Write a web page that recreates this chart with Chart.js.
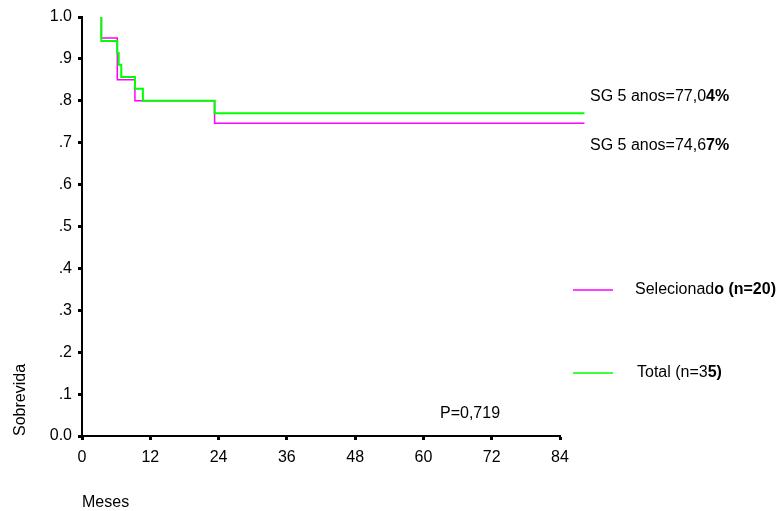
<!DOCTYPE html>
<html>
<head>
<meta charset="utf-8">
<title>Sobrevida</title>
<script src="https://cdn.jsdelivr.net/npm/chart.js@4.4.1/dist/chart.umd.min.js"></script>
<style>
  html, body { margin: 0; padding: 0; background: #fff; }
  canvas { display: block; }
</style>
</head>
<body>
<canvas id="km-chart" width="781" height="511"></canvas>
<script>
// Kaplan-Meier steps (months, survival)
const selTimes = [3.4, 3.4, 6.2, 9.3, 23.3, 88.3];
const selSurv = [1.0, 0.95, 0.85, 0.80, 0.7467, 0.7467];

const totTimes = [3.4, 3.4, 6.2, 6.45, 6.9, 9.3, 10.7, 23.3, 88.3];
const totSurv = [1.0, 0.943, 0.914, 0.886, 0.857, 0.829, 0.80, 0.7704, 0.7704];

const xTicks = [0, 12, 24, 36, 48, 60, 72, 84];
const yTicks = [0, 0.1, 0.2, 0.3, 0.4, 0.5, 0.6, 0.7, 0.8, 0.9, 1.0];

const seriesLabels = ['Selecionado (n=20)', 'Total (n=35)'];
const seriesColors = ['#ff00ff', '#00ff00'];
const pValue = 'P=0,719';

const FONT = '"Liberation Sans", Arial, sans-serif';
const FSIZE = 16;
Chart.defaults.font.family = FONT;
Chart.defaults.font.size = FSIZE;
Chart.defaults.color = '#000';

function toPoints(xs, ys) {
    return xs.map((x, i) => ({ x: x, y: ys[i] }));
}

function yLabel(v) {
    if (v >= 0.999) return '1.0';
    if (v <= 0.001) return '0.0';
    return '.' + Math.round(v * 10);
}

// text drawn with a bold tail, like the original export
function drawMixed(ctx, parts, x, y) {
    let cx = x;
    parts.forEach(([txt, bold]) => {
        ctx.font = (bold ? 'bold ' : '') + FSIZE + 'px ' + FONT;
        ctx.fillText(txt, cx, y);
        cx += ctx.measureText(txt).width;
    });
}

const annotations = {
    id: 'annotations',
    afterDraw(chart) {
        const ctx = chart.ctx;
        const area = chart.chartArea;
        ctx.save();
        ctx.fillStyle = '#000';
        ctx.textBaseline = 'middle';
        ctx.textAlign = 'left';

        // five year survival labels
        drawMixed(ctx, [['SG 5 anos=77,0', false], ['4%', true]], 590, 97);
        drawMixed(ctx, [['SG 5 anos=74,6', false], ['7%', true]], 590, 146);

        // legend
        const legendY = [290, 373];
        const legendParts = [
            [['Selecionad', false], ['o (n=20)', true]],
            [['Total (n=3', false], ['5)', true]]
        ];
        legendY.forEach((ly, i) => {
            ctx.strokeStyle = seriesColors[i];
            ctx.lineWidth = 1.5;
            ctx.beginPath();
            ctx.moveTo(573, ly);
            ctx.lineTo(613, ly);
            ctx.stroke();
            drawMixed(ctx, legendParts[i], i === 0 ? 635 : 637, ly);
        });

        // p value
        ctx.font = FSIZE + 'px ' + FONT;
        ctx.fillText(pValue, 440, 414);

        // axis titles
        ctx.fillText('Meses', 82, 503);
        ctx.translate(21, area.bottom);
        ctx.rotate(-Math.PI / 2);
        ctx.fillText('Sobrevida', 0, 0);
        ctx.restore();
    }
};

new Chart('km-chart', {
    type: 'line',
    data: {
        datasets: [
            {
                label: seriesLabels[0],
                data: toPoints(selTimes, selSurv),
                borderColor: seriesColors[0],
                borderWidth: 1.5,
                stepped: 'before',
                pointRadius: 0,
                clip: false,
                order: 1
            },
            {
                label: seriesLabels[1],
                data: toPoints(totTimes, totSurv),
                borderColor: seriesColors[1],
                borderWidth: 2,
                stepped: 'before',
                pointRadius: 0,
                clip: false,
                order: 0
            }
        ]
    },
    options: {
        responsive: false,
        animation: false,
        layout: { padding: { top: 17, right: 221, bottom: 0, left: 0 } },
        plugins: {
            legend: { display: false },
            tooltip: { enabled: false }
        },
        scales: {
            x: {
                type: 'linear',
                min: 0,
                max: 84,
                afterBuildTicks: s => { s.ticks = xTicks.map(v => ({ value: v })); },
                afterFit: s => { s.height = 75; },
                ticks: { padding: 8, maxRotation: 0 },
                grid: { drawOnChartArea: false, tickLength: 4, tickWidth: 3, tickColor: '#000' },
                border: { color: '#000', width: 2 }
            },
            y: {
                type: 'linear',
                min: 0,
                max: 1,
                afterBuildTicks: s => { s.ticks = yTicks.map(v => ({ value: v })); },
                afterFit: s => { s.width = 82; },
                ticks: { padding: 6, callback: v => yLabel(v) },
                grid: { drawOnChartArea: false, tickLength: 4, tickWidth: 3, tickColor: '#000' },
                border: { color: '#000', width: 2 }
            }
        }
    },
    plugins: [annotations]
});
</script>
</body>
</html>
